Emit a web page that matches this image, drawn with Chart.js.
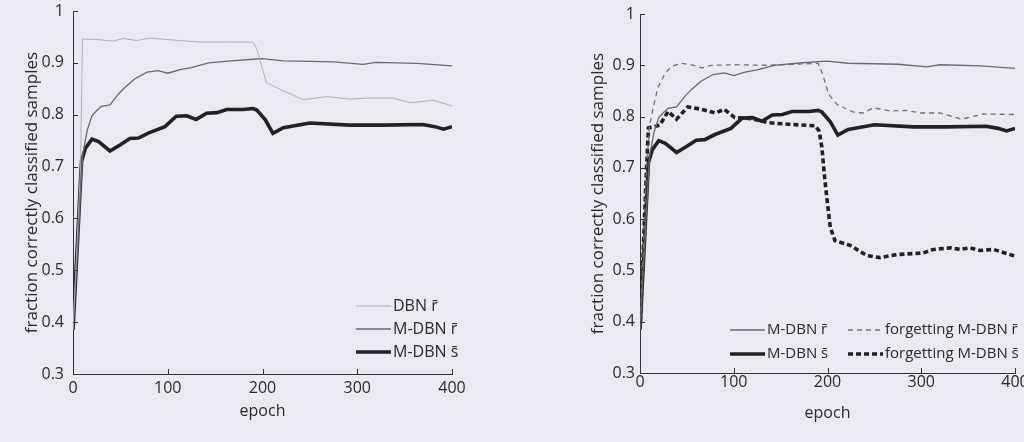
<!DOCTYPE html>
<html>
<head>
<meta charset="utf-8">
<script src="https://cdn.jsdelivr.net/npm/chart.js@4.4.0/dist/chart.umd.min.js"></script>
<style>
  html, body { margin: 0; padding: 0; background: #e9eaf2; }
  #wrap { position: relative; width: 1024px; height: 442px; overflow: hidden; }
  canvas { position: absolute; top: 0; }
</style>
</head>
<body>
<div id="wrap">
  <canvas id="leftChart" width="512" height="442" style="left:0"></canvas>
  <canvas id="rightChart" width="512" height="442" style="left:512px"></canvas>
</div>
<script>
// Tick labels
const xTicks = [0, 100, 200, 300, 400];
const yTicks = [0.3, 0.4, 0.5, 0.6, 0.7, 0.8, 0.9, 1];

// DBN r (light gray, left plot only)
const dbnEpochs = [0, 8, 10, 25, 42, 53, 67, 81, 99, 134, 162, 190, 194, 204, 222, 243, 268, 292, 310, 338, 356, 380, 400];
const dbnR = [0.385, 0.70, 0.946, 0.945, 0.942, 0.947, 0.943, 0.948, 0.945, 0.94, 0.94, 0.94, 0.927, 0.862, 0.846, 0.829, 0.835, 0.83, 0.832, 0.832, 0.823, 0.828, 0.817];

// M-DBN r (both plots)
const mdbnREpochs = [0, 5, 10, 15, 20, 25, 30, 39, 48, 55, 65, 78, 90, 100, 113, 125, 143, 167, 190, 200, 222, 250, 275, 306, 320, 363, 400];
const mdbnR = [0.385, 0.55, 0.72, 0.77, 0.798, 0.808, 0.816, 0.819, 0.84, 0.853, 0.869, 0.882, 0.885, 0.88, 0.887, 0.891, 0.9, 0.904, 0.907, 0.908, 0.904, 0.903, 0.902, 0.897, 0.901, 0.899, 0.894];

// M-DBN s (both plots)
const mdbnSEpochs = [0, 9, 13, 20, 27, 39, 50, 60, 69, 80, 97, 109, 120, 130, 141, 152, 162, 180, 190, 194, 203, 211, 222, 250, 292, 327, 369, 382, 391, 400];
const mdbnS = [0.385, 0.71, 0.735, 0.753, 0.748, 0.73, 0.742, 0.754, 0.755, 0.765, 0.777, 0.797, 0.798, 0.791, 0.803, 0.804, 0.81, 0.81, 0.812, 0.809, 0.79, 0.764, 0.775, 0.784, 0.78, 0.78, 0.781, 0.777, 0.772, 0.777];

// forgetting M-DBN r (right plot)
const forgREpochs = [0, 7, 10, 14, 19, 27, 34, 44, 55, 66, 76, 101, 137, 165, 190, 195, 201, 210, 227, 238, 249, 267, 284, 299, 320, 343, 366, 400];
const forgR = [0.385, 0.70, 0.78, 0.817, 0.856, 0.885, 0.898, 0.904, 0.901, 0.895, 0.9, 0.901, 0.9, 0.902, 0.904, 0.882, 0.844, 0.824, 0.809, 0.807, 0.817, 0.811, 0.812, 0.807, 0.807, 0.795, 0.805, 0.804];

// forgetting M-DBN s (right plot)
const forgSEpochs = [0, 7, 9, 21, 30, 39, 51, 66, 80, 90, 101, 119, 137, 158, 187, 191, 194, 197, 200, 203, 208, 224, 242, 256, 274, 302, 313, 331, 341, 352, 363, 377, 398, 400];
const forgS = [0.385, 0.70, 0.778, 0.783, 0.81, 0.795, 0.819, 0.814, 0.807, 0.814, 0.798, 0.796, 0.788, 0.785, 0.782, 0.772, 0.74, 0.68, 0.63, 0.584, 0.558, 0.549, 0.529, 0.525, 0.531, 0.534, 0.541, 0.544, 0.541, 0.544, 0.539, 0.541, 0.529, 0.528];

const axisColor = '#333333';
const textColor = '#2a2a2a';
const fontFamily = "'Open Sans', 'Noto Sans', sans-serif";

Chart.defaults.font.family = fontFamily;
Chart.defaults.color = textColor;

function points(epochs, values) {
    return epochs.map((e, i) => ({ x: e, y: values[i] }));
}

// small tick marks pointing into the plot, like the original figure
const inwardTicks = {
    id: 'inwardTicks',
    afterDraw(chart) {
        const ctx = chart.ctx;
        const xs = chart.scales.x, ys = chart.scales.y;
        ctx.save();
        ctx.strokeStyle = axisColor;
        ctx.lineWidth = 1;
        ctx.beginPath();
        xs.ticks.forEach(t => {
            const px = Math.round(xs.getPixelForValue(t.value)) + 0.5;
            ctx.moveTo(px, ys.bottom);
            ctx.lineTo(px, ys.bottom - 5);
        });
        ys.ticks.forEach(t => {
            const py = Math.round(ys.getPixelForValue(t.value)) + 0.5;
            ctx.moveTo(xs.left, py);
            ctx.lineTo(xs.left + 5, py);
        });
        ctx.stroke();
        ctx.restore();
    }
};

// legend drawn inside the plot area
const inlineLegend = {
    id: 'inlineLegend',
    afterDraw(chart, args, opts) {
        const ctx = chart.ctx;
        ctx.save();
        ctx.font = opts.font;
        ctx.fillStyle = textColor;
        ctx.textBaseline = 'middle';
        chart.data.datasets.forEach((ds, i) => {
            const spot = opts.spots[i];
            ctx.strokeStyle = ds.borderColor;
            ctx.lineWidth = ds.borderWidth;
            ctx.setLineDash(ds.borderDash || []);
            ctx.beginPath();
            ctx.moveTo(spot.x, spot.y);
            ctx.lineTo(spot.x + opts.lineLen, spot.y);
            ctx.stroke();
            ctx.setLineDash([]);
            ctx.fillText(ds.label, spot.x + opts.lineLen + 2, spot.y);
        });
        ctx.restore();
    }
};

function makeOptions(cfg) {
    return {
        responsive: false,
        animation: false,
        layout: { padding: cfg.padding },
        plugins: {
            legend: { display: false },
            tooltip: { enabled: false },
            inlineLegend: cfg.legend
        },
        elements: {
            point: { radius: 0 },
            line: { tension: 0, fill: false }
        },
        scales: {
            x: {
                type: 'linear',
                min: 0,
                max: 400,
                afterBuildTicks: scale => { scale.ticks = xTicks.map(v => ({ value: v })); },
                ticks: { padding: cfg.xPad, font: { size: 16 }, color: textColor },
                grid: { display: false, drawTicks: false },
                border: { display: true, color: axisColor, width: 1 },
                title: { display: true, text: 'epoch', font: { size: 16 }, padding: { bottom: cfg.xTitlePad } },
                afterFit: scale => {
                    scale.height = cfg.xHeight;
                    scale.paddingLeft = 0;
                    scale.paddingRight = 0;
                }
            },
            y: {
                min: 0.3,
                max: 1,
                afterBuildTicks: scale => { scale.ticks = yTicks.map(v => ({ value: v })); },
                ticks: {
                    padding: cfg.yPad,
                    font: { size: 16 },
                    color: textColor,
                    callback: v => (v === 1 ? '1' : v.toFixed(1))
                },
                grid: { display: false, drawTicks: false },
                border: { display: true, color: axisColor, width: 1 },
                title: { display: true, text: 'fraction correctly classified samples', font: { size: 17 }, padding: { top: cfg.yTitlePad } },
                afterFit: scale => {
                    scale.width = cfg.yWidth;
                    scale.paddingTop = 0;
                    scale.paddingBottom = 0;
                }
            }
        }
    };
}

const dbnSet = { label: 'DBN r\u0304', data: points(dbnEpochs, dbnR), borderColor: '#abafbd', borderWidth: 1 };
const mdbnRSet = { label: 'M-DBN r\u0304', data: points(mdbnREpochs, mdbnR), borderColor: '#6a6a6e', borderWidth: 1.3 };
const mdbnSSet = { label: 'M-DBN s\u0304', data: points(mdbnSEpochs, mdbnS), borderColor: '#222222', borderWidth: 3.6 };

// Left plot
new Chart(document.getElementById('leftChart'), {
    type: 'line',
    data: { datasets: [dbnSet, mdbnRSet, mdbnSSet] },
    options: makeOptions({
        padding: { top: 11, right: 60, left: 0, bottom: 0 },
        xHeight: 68, yWidth: 73,
        xPad: 5, yPad: 9,
        xTitlePad: 21, yTitlePad: 22,
        legend: {
            font: '16px ' + fontFamily,
            lineLen: 35,
            spots: [{ x: 356, y: 306 }, { x: 356, y: 329 }, { x: 356, y: 352 }]
        }
    }),
    plugins: [inwardTicks, inlineLegend]
});

// Right plot
new Chart(document.getElementById('rightChart'), {
    type: 'line',
    data: {
        datasets: [
            { ...mdbnRSet, data: points(mdbnREpochs, mdbnR) },
            { label: 'forgetting M-DBN r\u0304', data: points(forgREpochs, forgR), borderColor: '#737376', borderWidth: 1.3, borderDash: [5, 4] },
            { ...mdbnSSet, data: points(mdbnSEpochs, mdbnS) },
            { label: 'forgetting M-DBN s\u0304', data: points(forgSEpochs, forgS), borderColor: '#222222', borderWidth: 3.6, borderDash: [5, 3] }
        ]
    },
    options: makeOptions({
        padding: { top: 14, right: 9, left: 0, bottom: 0 },
        xHeight: 69, yWidth: 128,
        xPad: 0, yPad: 5,
        xTitlePad: 19, yTitlePad: 76,
        legend: {
            font: '15px ' + fontFamily,
            lineLen: 35,
            spots: [{ x: 218, y: 330 }, { x: 336, y: 330 }, { x: 218, y: 354 }, { x: 336, y: 354 }]
        }
    }),
    plugins: [inwardTicks, inlineLegend]
});
</script>
</body>
</html>
